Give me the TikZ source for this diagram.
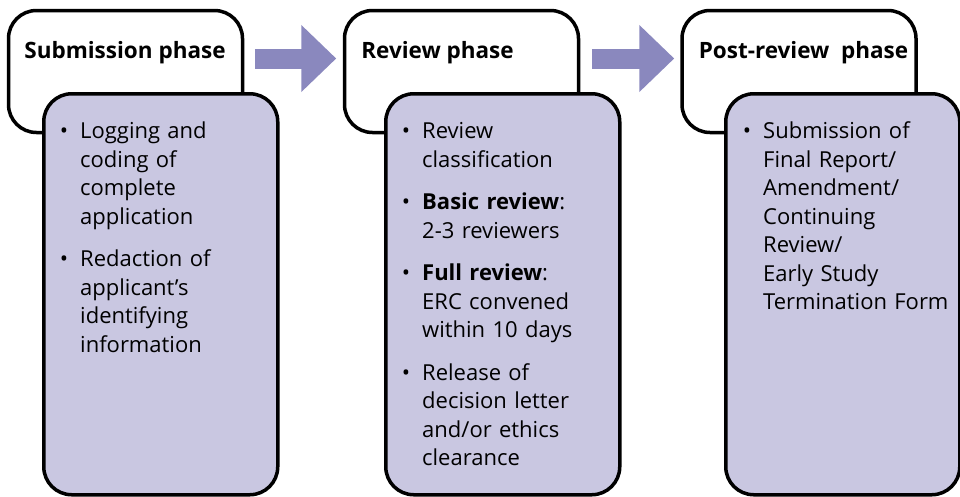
\documentclass[tikz,border=0pt]{standalone}
\usepackage{fontspec}
\setmainfont{Open Sans}
\usepackage{enumitem}
\usetikzlibrary{positioning,arrows.meta,calc}
\definecolor{phaselilac}{HTML}{C9C7E1}
\definecolor{phasearrow}{HTML}{8A88BE}
\setlist[itemize]{label=\textbullet, leftmargin=23pt, labelsep=12pt, topsep=0pt, partopsep=0pt, parsep=0pt, itemsep=14pt}
\tikzset{
  headbox/.style={draw, line width=3.5pt, rounded corners=28pt, fill=white, minimum width=234pt, minimum height=122pt, inner sep=0pt},
  listbox/.style={draw, line width=3.5pt, rounded corners=28pt, fill=phaselilac, minimum width=234pt, minimum height=401pt, inner sep=0pt, anchor=north west},
  headtext/.style={font=\fontsize{22.5}{26}\selectfont\bfseries, inner sep=0pt},
  listtext/.style={font=\fontsize{22}{28.5}\selectfont, text width=214pt, inner sep=0pt, align=left, anchor=north west},
  flowarrow/.style={phasearrow, line width=20pt, -{Triangle[length=35pt,width=65pt]}}
}

\begin{document}
\begin{tikzpicture}[x=1pt,y=-1pt]
  \useasboundingbox (0,0) rectangle (960,496);
  % phase headers
  \node[headbox] (sub) at (125.5,71.5) {};
  \node[headbox] (rev) at (461.5,71.5) {};
  \node[headbox] (post) at (799,71.5) {};
  \node[headtext] (subT) at (125,53) {Submission phase};
  \node[headtext] (revT) at (437.5,53) {Review phase};
  \node[headtext] (postT) at (803.5,53) {Post-review~ phase};
  % arrows between phases
  \draw[flowarrow] ([xshift=10.5pt,yshift=13pt]sub.east) -- ([xshift=-6.5pt,yshift=13pt]rev.west);
  \draw[flowarrow] ([xshift=12pt,yshift=13pt]rev.east) -- ([xshift=-6pt,yshift=13pt]post.west);
  % step lists
  \node[listbox] (subP) at (42,92) {};
  \node[listbox] (revP) at (384,92) {};
  \node[listbox] (postP) at (724,92) {};
  \node[listtext] (subL) at ([xshift=15pt,yshift=-18pt]subP.north west) {%
    \begin{itemize}
      \item Logging and\\ coding of\\ complete\\ application
      \item Redaction of\\ applicant’s\\ identifying\\ information
    \end{itemize}};
  \node[listtext] (revL) at ([xshift=15pt,yshift=-18pt]revP.north west) {%
    \begin{itemize}
      \item Review\\ classification
      \item \textbf{Basic review}:\\ 2-3 reviewers
      \item \textbf{Full review}:\\ ERC convened\\ within 10 days
      \item Release of\\ decision letter\\ and/or ethics\\ clearance
    \end{itemize}};
  \node[listtext] (postL) at ([xshift=16pt,yshift=-18pt]postP.north west) {%
    \begin{itemize}
      \item Submission of\\ Final Report/\\ Amendment/\\ Continuing\\ Review/\\ Early Study\\ Termination Form
    \end{itemize}};
\end{tikzpicture}
\end{document}
